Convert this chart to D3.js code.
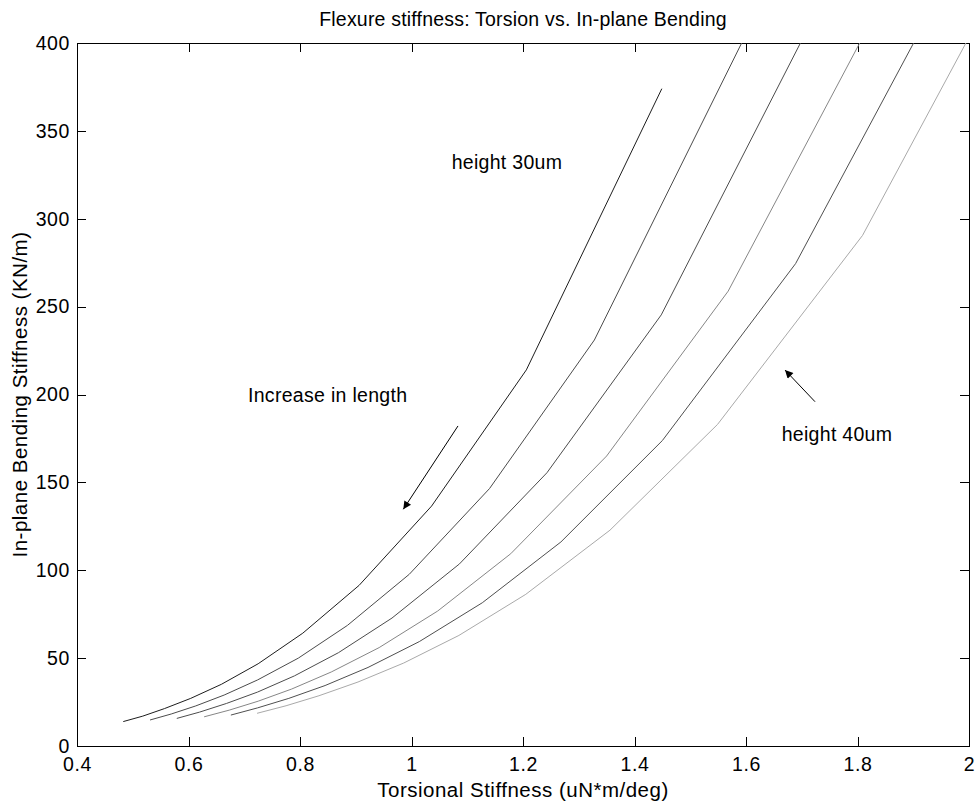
<!DOCTYPE html>
<html>
<head>
<meta charset="utf-8">
<script src="https://cdn.jsdelivr.net/npm/d3@7"></script>
<style>
  html, body { margin: 0; padding: 0; background: #fff; }
  svg { display: block; }
  text { font-family: "Liberation Sans", Arial, Helvetica, sans-serif; fill: #000; }
</style>
</head>
<body>
<svg id="chart" width="976" height="802"></svg>
<script>
// ---------- data ----------
const title = "Flexure stiffness: Torsion vs. In-plane Bending";
const xLabel = "Torsional Stiffness (uN*m/deg)";
const yLabel = "In-plane Bending Stiffness (KN/m)";

const xTicks = [0.4, 0.6, 0.8, 1, 1.2, 1.4, 1.6, 1.8, 2];
const yTicks = [0, 50, 100, 150, 200, 250, 300, 350, 400];

const seriesNames = ["h30", "h32", "h34", "h36", "h38", "h40"];
const seriesColors = ["#1d1d1d", "#4b4b4b", "#4c4c4c", "#868686", "#4f4f4f", "#a9a9a9"];

// Torsional stiffness (x) and in-plane bending stiffness (y), one point per flexure length
const h30x = [0.483, 0.518, 0.557, 0.604, 0.659, 0.725, 0.805, 0.906, 1.036, 1.206, 1.449];
const h30y = [13.9, 17.0, 21.3, 27.1, 35.1, 46.8, 64.2, 91.4, 136.5, 214.0, 374.0];
const h32x = [0.531, 0.569, 0.613, 0.664, 0.724, 0.797, 0.885, 0.996, 1.140, 1.328, 1.593];
const h32y = [14.8, 18.2, 22.8, 29.0, 37.6, 50.0, 68.6, 97.7, 146.5, 231.0, 400.5];
const h34x = [0.579, 0.620, 0.668, 0.724, 0.790, 0.869, 0.965, 1.086, 1.243, 1.448, 1.737];
const h34y = [15.7, 19.3, 24.2, 30.7, 39.9, 53.1, 72.8, 103.6, 155.5, 245.3, 424.4];
const h36x = [0.628, 0.673, 0.725, 0.785, 0.856, 0.942, 1.047, 1.178, 1.350, 1.568, 1.884];
const h36y = [16.6, 20.4, 25.5, 32.4, 42.1, 56.0, 76.8, 109.4, 165.0, 258.8, 447.9];
const h38x = [0.676, 0.724, 0.780, 0.845, 0.922, 1.014, 1.127, 1.268, 1.450, 1.689, 2.028];
const h38y = [17.6, 21.7, 27.1, 34.4, 44.7, 59.4, 81.5, 116.1, 173.8, 274.5, 475.5];
const h40x = [0.723, 0.775, 0.834, 0.904, 0.986, 1.085, 1.205, 1.356, 1.549, 1.809, 2.169];
const h40y = [18.6, 22.9, 28.6, 36.4, 47.2, 62.9, 86.3, 122.8, 183.0, 290.5, 503.0];

const seriesX = [h30x, h32x, h34x, h36x, h38x, h40x];
const seriesY = [h30y, h32y, h34y, h36y, h38y, h40y];

// annotations (text starts at x, baseline at y, in data units)
const labelTexts = ["height 30um", "Increase in length", "height 40um"];
const labelX = [1.072, 0.7067, 1.664];
const labelY = [328.5, 195.5, 173.5];
// arrows: from (x0,y0) to tip (x1,y1)
const arrowX0 = [1.0834, 1.7238];
const arrowY0 = [182.1, 195.9];
const arrowX1 = [0.9853, 1.670];
const arrowY1 = [134.7, 213.9];

// ---------- layout ----------
const W = 976, H = 802;
const margin = { left: 77, top: 43, right: 7, bottom: 56 };
const iw = W - margin.left - margin.right;
const ih = H - margin.top - margin.bottom;
const FS = "19.5px";

const svg = d3.select("#chart");
const x = d3.scaleLinear().domain([0.4, 2]).range([0, iw]);
const y = d3.scaleLinear().domain([0, 400]).range([ih, 0]);

const defs = svg.append("defs");
defs.append("clipPath").attr("id", "clip")
  .append("rect").attr("x", 0).attr("y", 0).attr("width", iw).attr("height", ih);

const g = svg.append("g").attr("transform", `translate(${margin.left},${margin.top})`);

const tickLen = 9;

// axes (ticks inward, box style)
const xb = g.append("g").attr("transform", `translate(0,${ih})`)
  .call(d3.axisBottom(x).tickValues(xTicks).tickSizeInner(-tickLen).tickSizeOuter(0).tickPadding(11)
    .tickFormat(d => String(+d.toFixed(1))));
const xt = g.append("g")
  .call(d3.axisTop(x).tickValues(xTicks).tickSizeInner(-tickLen).tickSizeOuter(0).tickFormat(""));
const yl = g.append("g")
  .call(d3.axisLeft(y).tickValues(yTicks).tickSizeInner(-tickLen).tickSizeOuter(0).tickPadding(7));
const yr = g.append("g").attr("transform", `translate(${iw},0)`)
  .call(d3.axisRight(y).tickValues(yTicks).tickSizeInner(-tickLen).tickSizeOuter(0).tickFormat(""));

[xb, xt, yl, yr].forEach(a => {
  a.select(".domain").remove();
  a.selectAll("line").attr("stroke", "#000").attr("stroke-width", 1).attr("shape-rendering", "crispEdges");
  a.selectAll("text").style("font-size", FS).attr("fill", "#000")
    .style("letter-spacing", "0.6px")
    .style("font-family", '"Liberation Sans", Arial, sans-serif');
});
[xb, xt].forEach(a => a.selectAll(".tick").filter(d => d === 0.4 || d === 2).select("line").remove());
[yl, yr].forEach(a => a.selectAll(".tick").filter(d => d === 0 || d === 400).select("line").remove());

// box
g.append("rect").attr("x", 0).attr("y", 0).attr("width", iw).attr("height", ih)
  .attr("fill", "none").attr("stroke", "#000").attr("stroke-width", 1).attr("shape-rendering", "crispEdges");

// series
const line = d3.line().x(d => x(d[0])).y(d => y(d[1]));
const plot = g.append("g").attr("clip-path", "url(#clip)");
seriesNames.forEach((name, i) => {
  const pts = seriesX[i].map((v, j) => [v, seriesY[i][j]]);
  plot.append("path").datum(pts)
    .attr("class", "series " + name)
    .attr("fill", "none")
    .attr("stroke", seriesColors[i])
    .attr("stroke-width", 1)
    .attr("d", line);
});

// annotations
labelTexts.forEach((t, i) => {
  g.append("text").attr("x", x(labelX[i])).attr("y", y(labelY[i]))
    .style("font-size", FS).style("letter-spacing", "0.3px").text(t);
});

defs.append("marker").attr("id", "arrowhead")
  .attr("viewBox", "0 0 10 10").attr("refX", 10).attr("refY", 5)
  .attr("markerWidth", 11).attr("markerHeight", 8).attr("markerUnits", "userSpaceOnUse")
  .attr("orient", "auto")
  .append("path").attr("d", "M0,0 L10,5 L0,10 Z").attr("fill", "#000");

arrowX0.forEach((v, i) => {
  g.append("line")
    .attr("x1", x(v)).attr("y1", y(arrowY0[i]))
    .attr("x2", x(arrowX1[i])).attr("y2", y(arrowY1[i]))
    .attr("stroke", "#000").attr("stroke-width", 1)
    .attr("marker-end", "url(#arrowhead)");
});

// titles
svg.append("text").attr("x", margin.left + iw / 2).attr("y", 26)
  .attr("text-anchor", "middle").style("font-size", FS).style("letter-spacing", "0.2px").text(title);
svg.append("text").attr("x", margin.left + iw / 2).attr("y", 797)
  .attr("text-anchor", "middle").style("font-size", "20.5px").style("letter-spacing", "0.5px").text(xLabel);
svg.append("text").attr("transform", `translate(27,${margin.top + ih / 2}) rotate(-90)`)
  .attr("text-anchor", "middle").style("font-size", "20.5px").style("letter-spacing", "0.5px").text(yLabel);
</script>
</body>
</html>
